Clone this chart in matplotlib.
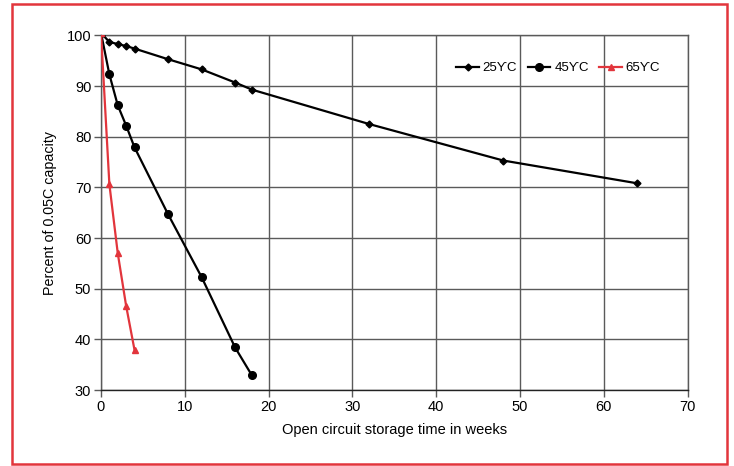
import matplotlib.pyplot as plt
from matplotlib.patches import Rectangle

plt.rcParams["font.family"] = ["Liberation Sans", "DejaVu Sans"]

# storage time (weeks) and retained capacity (%)
weeks_25 = [0, 1, 2, 3, 4, 8, 12, 16, 18, 32, 48, 64]
cap_25 = [100.5, 98.7, 98.3, 97.9, 97.4, 95.3, 93.3, 90.7, 89.3, 82.5, 75.3, 70.8]

weeks_45 = [0, 1, 2, 3, 4, 8, 12, 16, 18]
cap_45 = [100.5, 92.3, 86.2, 82.2, 77.9, 64.7, 52.3, 38.4, 32.9]

weeks_65 = [0, 1, 2, 3, 4]
cap_65 = [100.5, 70.6, 57.0, 46.6, 37.9]

labels = ["25\u03d2C", "45\u03d2C", "65\u03d2C"]
x_ticks = list(range(0, 71, 10))
y_ticks = list(range(30, 101, 10))

RED = "#e2353c"
GRID = "#5a5a5a"

fig = plt.figure(figsize=(7.34, 4.66), dpi=100)
ax = fig.add_axes([0.1376, 0.163, 0.7994, 0.761])

ax.plot(weeks_25, cap_25, color="black", lw=1.6, marker="D", ms=3.5,
        label=labels[0], zorder=3)
ax.plot(weeks_45, cap_45, color="black", lw=1.6, marker="o", ms=5.5,
        label=labels[1], zorder=3)
ax.plot(weeks_65, cap_65, color=RED, lw=1.6, marker="^", ms=5,
        label=labels[2], zorder=4)

ax.set_xlim(0, 70)
ax.set_ylim(30, 100)
ax.set_xticks(x_ticks)
ax.set_yticks(y_ticks)
ax.grid(True, color=GRID, lw=1.0)
ax.set_axisbelow(True)
for side in ["top", "right", "left"]:
    ax.spines[side].set_color(GRID)
    ax.spines[side].set_linewidth(1.0)
ax.spines["bottom"].set_color("#222222")
ax.spines["bottom"].set_linewidth(1.0)
ax.tick_params(axis="both", direction="out", length=5, width=1.0,
               color=GRID, labelsize=10.5, pad=2)

ax.set_xlabel("Open circuit storage time in weeks", fontsize=10.5, labelpad=7)
ax.set_ylabel("Percent of 0.05C capacity", fontsize=10.3, labelpad=7)

ax.legend(loc="center right", bbox_to_anchor=(0.962, 0.908), ncol=3,
          frameon=False, fontsize=9.5, handlelength=1.7, handletextpad=0.3,
          columnspacing=0.8, borderaxespad=0)

fig.patches.append(Rectangle((0.0163, 0.0043), 0.974, 0.987,
                             transform=fig.transFigure, fill=False,
                             edgecolor=RED, lw=1.8))

fig.savefig("out.png", dpi=100)
